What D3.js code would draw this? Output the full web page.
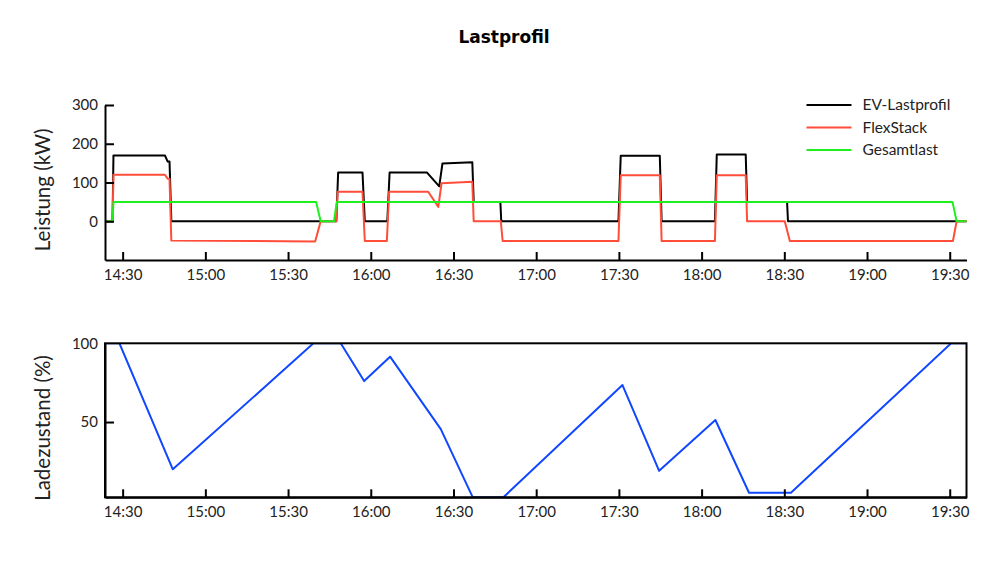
<!DOCTYPE html>
<html>
<head>
<meta charset="utf-8">
<script src="https://cdn.jsdelivr.net/npm/d3@7"></script>
<style>
  html, body { margin: 0; padding: 0; background: #fff; }
  svg { display: block; font-family: Lato, "Noto Sans", sans-serif; }
</style>
</head>
<body>
<svg id="chart" width="1008" height="567"></svg>
<script>
// ---------- DATA ----------
const timeDomain = ["14:23:36", "19:36:05"];
const timeTicks = ["14:30", "15:00", "15:30", "16:00", "16:30", "17:00", "17:30", "18:00", "18:30", "19:00", "19:30"];
const powerTicks = [0, 100, 200, 300];
const socTicks = [50, 100];
const seriesNames = ["EV-Lastprofil", "FlexStack", "Gesamtlast"];

// EV-Lastprofil (kW)
const evTimes = ["14:23:36","14:26:20","14:26:40","14:45:20","14:46:20","14:47:00","14:47:40","15:47:30","15:48:10","15:57:00","15:57:50","16:06:00","16:06:50","16:20:20","16:24:50","16:26:00","16:36:50","16:37:20","16:47:00","16:47:20","17:29:50","17:30:40","17:44:50","17:45:30","18:04:50","18:05:30","18:16:00","18:16:30","18:31:00","18:31:20","19:36:05"];
const evValues = [0,0,170,170,154,154,0,0,126,126,0,0,126,126,90,149,152,50,50,0,0,169,169,0,0,172,172,50,50,0,0];

// FlexStack (kW)
const flexTimes = ["14:23:36","14:26:20","14:26:40","14:45:20","14:46:20","14:47:00","14:47:40","15:39:50","15:41:50","15:47:30","15:48:00","15:57:00","15:57:50","16:05:50","16:06:40","16:20:50","16:24:30","16:25:40","16:36:50","16:37:20","16:47:10","16:47:50","17:29:50","17:30:40","17:44:50","17:45:30","18:04:50","18:05:30","18:16:00","18:16:30","18:30:10","18:32:00","19:31:10","19:32:30","19:36:05"];
const flexValues = [0,0,120,120,110,110,-50,-52,0,0,76,76,-51,-51,76,76,37,98,102,0,0,-51,-51,119,119,-51,-51,119,119,0,0,-51,-51,0,0];

// Gesamtlast (kW)
const totalTimes = ["14:23:36","14:26:20","14:26:40","15:40:10","15:41:50","15:46:40","15:47:40","19:31:00","19:32:30","19:36:05"];
const totalValues = [0,0,50,50,0,0,50,50,0,0];

// Ladezustand (%)
const socTimes = ["14:23:36","14:28:50","14:48:12","15:39:12","15:49:06","15:57:36","16:07:00","16:25:24","16:37:00","16:48:06","17:31:18","17:44:36","18:05:00","18:17:12","18:32:24","19:30:30","19:36:05"];
const socValues = [100,100,20,100,100,76,91.5,45.5,2.2,2.2,73.5,19,51.3,5.1,5.1,100,100];

// ---------- CHART ----------
const parse = d3.timeParse("%H:%M:%S");
const parseHM = d3.timeParse("%H:%M");
const svg = d3.select("#chart");

const colors = { ev: "#000000", flex: "#ff4d3a", total: "#1ef01e", soc: "#1147ff" };
const textColor = "#222";

const x = d3.scaleTime()
  .domain(timeDomain.map(parse))
  .range([105, 966.5]);

const yTop = d3.scaleLinear().domain([-100, 300]).range([260, 105]);
const yBot = d3.scaleLinear().domain([2.2, 100]).range([497.3, 343.3]);

const fmt = d3.timeFormat("%H:%M");
const tickDates = timeTicks.map(parseHM);

// Title
svg.append("text")
  .attr("x", 504).attr("y", 43)
  .attr("text-anchor", "middle")
  .attr("font-weight", "bold")
  .attr("font-family", "'DejaVu Sans', Lato, sans-serif")
  .attr("font-size", 17)
  .attr("fill", "#000")
  .text("Lastprofil");

function styleAxis(g) {
  g.selectAll(".domain").attr("stroke", "#000").attr("stroke-width", 2);
  g.selectAll(".tick line").attr("stroke", "#000").attr("stroke-width", 2);
  g.selectAll(".tick text").attr("fill", textColor).attr("font-size", 15)
    .attr("font-family", "Lato, 'Noto Sans', sans-serif");
}

// ----- Top chart -----
const gTop = svg.append("g");
const lineTop = (times, vals) => d3.line()
  .x((d, i) => x(parse(times[i])))
  .y((d) => yTop(d))(vals);

gTop.append("path").attr("d", lineTop(evTimes, evValues))
  .attr("fill", "none").attr("stroke", colors.ev).attr("stroke-width", 2).attr("stroke-linejoin", "round");
gTop.append("path").attr("d", lineTop(flexTimes, flexValues))
  .attr("fill", "none").attr("stroke", colors.flex).attr("stroke-width", 2).attr("stroke-linejoin", "round");
gTop.append("path").attr("d", lineTop(totalTimes, totalValues))
  .attr("fill", "none").attr("stroke", colors.total).attr("stroke-width", 2).attr("stroke-linejoin", "round");

const gxTop = gTop.append("g").attr("transform", "translate(0,260)")
  .call(d3.axisBottom(x).tickValues(tickDates).tickFormat(fmt)
    .tickSizeInner(-8).tickSizeOuter(0).tickPadding(9));
styleAxis(gxTop);

const gyTop = gTop.append("g").attr("transform", "translate(105,0)")
  .call(d3.axisLeft(yTop).tickValues(powerTicks)
    .tickSizeInner(-9).tickSizeOuter(0).tickPadding(7));
styleAxis(gyTop);

svg.append("text")
  .attr("transform", "translate(50,190) rotate(-90)")
  .attr("text-anchor", "middle")
  .attr("font-size", 20.5)
  .attr("fill", textColor)
  .text("Leistung (kW)");

// Legend
const legendColors = [colors.ev, colors.flex, colors.total];
const legend = svg.append("g");
seriesNames.forEach((name, i) => {
  const yy = 105 + i * 22.5;
  legend.append("line")
    .attr("x1", 806.5).attr("x2", 851.5).attr("y1", yy).attr("y2", yy)
    .attr("stroke", legendColors[i]).attr("stroke-width", 2);
  legend.append("text")
    .attr("x", 862.5).attr("y", yy).attr("dy", "0.35em")
    .attr("font-size", 15.5).attr("fill", textColor)
    .text(name);
});

// ----- Bottom chart -----
const gBot = svg.append("g");
svg.append("clipPath").attr("id", "clipBot")
  .append("rect").attr("x", 105).attr("y", 343.3).attr("width", 966.5 - 105).attr("height", 497.3 - 343.3);

gBot.append("path")
  .attr("clip-path", "url(#clipBot)")
  .attr("d", d3.line().x((d, i) => x(parse(socTimes[i]))).y(d => yBot(d))(socValues))
  .attr("fill", "none").attr("stroke", colors.soc).attr("stroke-width", 2).attr("stroke-linejoin", "round");

const gxBot = gBot.append("g").attr("transform", "translate(0,497.3)")
  .call(d3.axisBottom(x).tickValues(tickDates).tickFormat(fmt)
    .tickSizeInner(-8).tickSizeOuter(0).tickPadding(9));
styleAxis(gxBot);

const gyBot = gBot.append("g").attr("transform", "translate(105,0)")
  .call(d3.axisLeft(yBot).tickValues(socTicks)
    .tickSizeInner(-9).tickSizeOuter(0).tickPadding(7));
styleAxis(gyBot);
gyBot.selectAll(".tick line").filter(d => d === 100).remove();

gBot.append("rect")
  .attr("x", 105).attr("y", 343.3)
  .attr("width", 966.5 - 105).attr("height", 497.3 - 343.3)
  .attr("fill", "none").attr("stroke", "#000").attr("stroke-width", 2);

svg.append("text")
  .attr("transform", "translate(50,428) rotate(-90)")
  .attr("text-anchor", "middle")
  .attr("font-size", 20.5)
  .attr("fill", textColor)
  .text("Ladezustand (%)");
</script>
</body>
</html>
